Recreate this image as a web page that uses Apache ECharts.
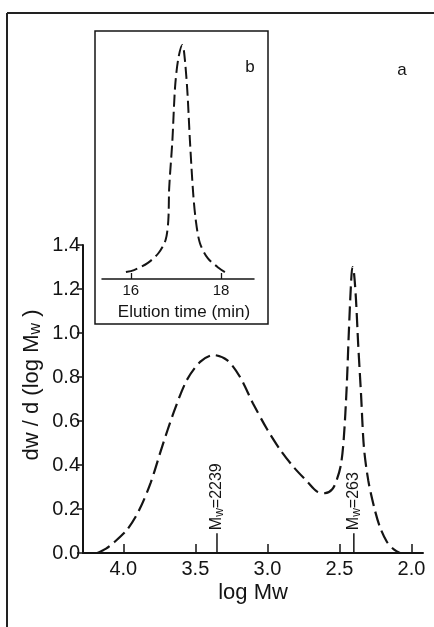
<!DOCTYPE html>
<html>
<head>
<meta charset="utf-8">
<script src="https://cdn.jsdelivr.net/npm/echarts@6/dist/echarts.min.js"></script>
<style>
html,body{margin:0;padding:0;background:#fff;}
#c{width:434px;height:627px;}
</style>
</head>
<body>
<div id="c"></div>
<script>
// ---- main chart (a): dw/d(log Mw) vs log Mw ----
const mainLogM = [4.18, 4.12, 4.07, 3.975, 3.89, 3.81, 3.73, 3.65, 3.56, 3.465, 3.375, 3.28, 3.19, 3.10, 3.0, 2.91, 2.82, 2.72, 2.655, 2.60, 2.55, 2.52, 2.49, 2.47, 2.45, 2.435, 2.42, 2.41, 2.40, 2.385, 2.37, 2.35, 2.33, 2.30, 2.26, 2.22, 2.17, 2.12, 2.08];
const mainDw   = [0, 0.02, 0.045, 0.105, 0.195, 0.32, 0.485, 0.64, 0.785, 0.87, 0.90, 0.877, 0.80, 0.68, 0.56, 0.468, 0.392, 0.322, 0.279, 0.272, 0.29, 0.33, 0.40, 0.52, 0.75, 1.00, 1.22, 1.30, 1.28, 1.15, 0.95, 0.72, 0.48, 0.33, 0.21, 0.12, 0.05, 0.015, 0];
const xTickValues = [2.0, 2.5, 3.0, 3.5, 4.0];
const markerLogM = [3.35, 2.40];
const markerMw = ['2239', '263'];

// ---- inset (b): elution curve ----
const insetTime   = [15.89, 16.07, 16.37, 16.61, 16.77, 16.83, 16.85, 16.92, 16.98, 17.05, 17.14, 17.18, 17.25, 17.31, 17.38, 17.44, 17.53, 17.70, 17.95, 18.16];
const insetSignal = [0.03, 0.038, 0.068, 0.11, 0.167, 0.25, 0.39, 0.59, 0.82, 0.94, 1.0, 0.97, 0.81, 0.59, 0.37, 0.25, 0.154, 0.09, 0.047, 0.021];
const insetTickValues = [16, 18];

const FONT = 'Liberation Sans';
const INK = '#141414';

const chart = echarts.init(document.getElementById('c'), null, {renderer: 'canvas'});

const mainData = mainLogM.map((v, i) => [v, mainDw[i]]);
const insetData = insetTime.map((v, i) => [v, insetSignal[i]]);
const markerData = markerLogM.map((v, i) => [v, 0.09, i]);

chart.setOption({
  backgroundColor: '#fff',
  animation: false,
  grid: [
    {left: 83, top: 245, width: 340, height: 308},
    {left: 102, top: 45, width: 152, height: 234}
  ],
  xAxis: [
    {
      gridIndex: 0, type: 'value', inverse: true, min: 1.92, max: 4.28,
      splitLine: {show: false},
      axisLine: {lineStyle: {color: INK, width: 2}},
      axisTick: {inside: true, length: 9, customValues: xTickValues, lineStyle: {color: INK, width: 1.5}},
      axisLabel: {customValues: xTickValues, formatter: v => v.toFixed(1), fontFamily: FONT, fontSize: 20, color: INK, margin: 6},
      name: 'log Mw', nameLocation: 'middle', nameGap: 29,
      nameTextStyle: {fontFamily: FONT, fontSize: 22, color: INK}
    },
    {
      gridIndex: 1, type: 'value', min: 15.36, max: 18.73,
      splitLine: {show: false},
      axisLine: {lineStyle: {color: INK, width: 1.5}},
      axisTick: {inside: true, length: 6, customValues: insetTickValues, lineStyle: {color: INK, width: 1.3}},
      axisLabel: {customValues: insetTickValues, fontFamily: FONT, fontSize: 15, color: INK, margin: 4}
    }
  ],
  yAxis: [
    {
      gridIndex: 0, type: 'value', min: 0, max: 1.4, interval: 0.2,
      splitLine: {show: false},
      axisLine: {show: true, lineStyle: {color: INK, width: 2}},
      axisTick: {show: true, inside: false, length: 6, lineStyle: {color: INK, width: 1.5}},
      axisLabel: {formatter: v => v.toFixed(1), fontFamily: FONT, fontSize: 20, color: INK, margin: 3}
    },
    {
      gridIndex: 1, type: 'value', min: 0, max: 1, show: false
    }
  ],
  series: [
    {
      type: 'line', xAxisIndex: 0, yAxisIndex: 0, data: mainData,
      smooth: 0.3, showSymbol: false, symbol: 'none',
      lineStyle: {color: INK, width: 2.2, type: [14, 6]}
    },
    {
      type: 'line', xAxisIndex: 1, yAxisIndex: 1, data: insetData,
      smooth: 0.3, showSymbol: false, symbol: 'none',
      lineStyle: {color: INK, width: 2, type: [12, 5]}
    },
    {
      type: 'custom', xAxisIndex: 0, yAxisIndex: 0, data: markerData,
      renderItem: function (params, api) {
        const x = api.value(0);
        const top = api.value(1);
        const idx = api.value(2);
        const p0 = api.coord([x, 0]);
        const p1 = api.coord([x, top]);
        return {
          type: 'group',
          children: [
            {type: 'line', shape: {x1: p0[0], y1: p0[1], x2: p1[0], y2: p1[1]}, style: {stroke: INK, lineWidth: 1.5}},
            {type: 'text', x: p1[0], y: p1[1] - 3, rotation: Math.PI / 2,
              style: {
                text: 'M{s|w}=' + markerMw[idx],
                fontFamily: FONT, fontSize: 16, fill: INK,
                align: 'left', verticalAlign: 'middle',
                rich: {s: {fontFamily: FONT, fontSize: 12, fill: INK, verticalAlign: 'bottom', padding: [6, 0, 0, 0]}}
              }}
          ]
        };
      }
    }
  ],
  graphic: [
    {type: 'line', shape: {x1: 7, y1: 13, x2: 434, y2: 13}, style: {stroke: '#222', lineWidth: 2}},
    {type: 'line', shape: {x1: 7, y1: 13, x2: 7, y2: 627}, style: {stroke: '#222', lineWidth: 2}},
    {type: 'rect', shape: {x: 95, y: 31, width: 173, height: 293}, style: {fill: 'none', stroke: INK, lineWidth: 1.5}},
    {type: 'text', x: 184, y: 312, style: {text: 'Elution time (min)', fontFamily: FONT, fontSize: 17, fill: INK, align: 'center', verticalAlign: 'middle'}},
    {type: 'text', x: 250, y: 67, style: {text: 'b', fontFamily: FONT, fontSize: 17, fill: INK, align: 'center', verticalAlign: 'middle'}},
    {type: 'text', x: 402, y: 70, style: {text: 'a', fontFamily: FONT, fontSize: 17, fill: INK, align: 'center', verticalAlign: 'middle'}},
    {type: 'text', x: 32, y: 385, rotation: Math.PI / 2,
      style: {text: 'dw / d (log M{s|w} )', fontFamily: FONT, fontSize: 22, fill: INK, align: 'center', verticalAlign: 'middle',
        rich: {s: {fontFamily: FONT, fontSize: 16, fill: INK, verticalAlign: 'bottom', padding: [8, 0, 0, 0]}}}}
  ]
});
</script>
</body>
</html>
